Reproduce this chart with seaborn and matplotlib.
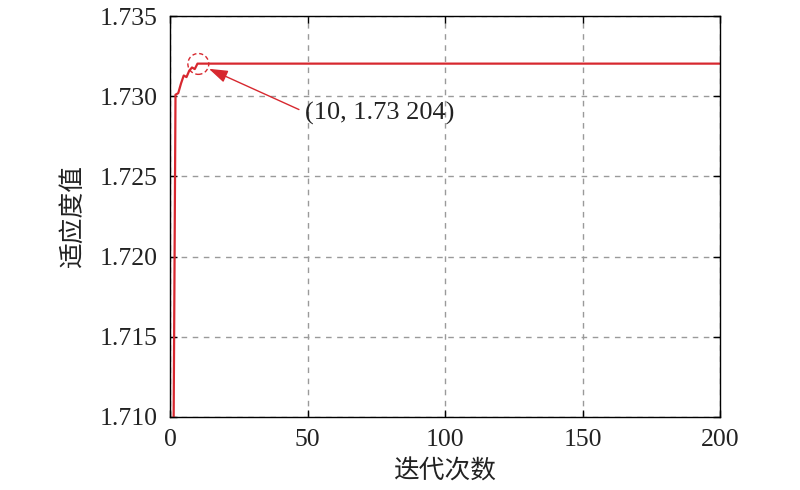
import numpy as np
import pandas as pd
import matplotlib

matplotlib.use("Agg")
import matplotlib.pyplot as plt
import seaborn as sns
from matplotlib.patches import Ellipse

# convergence curve: iteration -> fitness
early_iters = [1, 2, 3, 4, 5, 6, 7, 8, 9, 10]
early_fitness = [1.7000, 1.7301, 1.7302, 1.7308, 1.7313, 1.7312, 1.7316, 1.7318, 1.7317, 1.73204]
plateau_value = 1.73204
last_iter = 200

best_iter = 10
best_value = 1.73204
best_label = "(10, 1.73 204)"

x_ticks = [0, 50, 100, 150, 200]
y_ticks = [1.710, 1.715, 1.720, 1.725, 1.730, 1.735]

iters = early_iters + list(range(early_iters[-1] + 1, last_iter + 1))
fitness = early_fitness + [plateau_value] * (last_iter - early_iters[-1])
df = pd.DataFrame({"iter": iters, "fitness": fitness})

sns.set_theme(style="white")
plt.rcParams["font.family"] = ["Liberation Serif", "Noto Sans CJK SC"]
cjk = ["Noto Sans CJK SC", "DejaVu Sans"]
red = "#d7282f"

fig = plt.figure(figsize=(8, 4.9), dpi=100)
ax = fig.add_axes([0.2125, 0.149, 0.6875, 0.818])

sns.lineplot(data=df, x="iter", y="fitness", color=red, linewidth=1.6, ax=ax)

ax.set_xlim(0, 200)
ax.set_ylim(1.710, 1.735)
ax.set_xticks(x_ticks)
ax.set_yticks(y_ticks)
ax.set_yticklabels([f"{v:.3f}" for v in y_ticks])
ax.tick_params(axis="both", which="both", direction="in", length=5, width=1,
               colors="black", labelsize=18.5, pad=9,
               top=True, right=True, bottom=True, left=True)
for lab in ax.get_xticklabels() + ax.get_yticklabels():
    lab.set_color("#222222")

ax.grid(True, color="#9a9a9a", linestyle=(0, (4, 4)), linewidth=1)
for s in ax.spines.values():
    s.set_color("black")
    s.set_linewidth(1)

ax.set_xlabel("迭代次数", family=cjk, fontsize=18.5, color="#222222", labelpad=5)
ax.set_ylabel("适应度值", family=cjk, fontsize=18.5, color="#222222", labelpad=10)

# dashed circle around the best point
ax.add_patch(Ellipse((best_iter + 0.3, best_value - 0.00002), width=7.6, height=0.0013,
                     fill=False, edgecolor=red, linestyle=(0, (3, 2)), linewidth=1))

ax.annotate(best_label, xy=(best_iter, best_value), xytext=(49, 1.72894),
            ha="left", va="center", fontsize=19, color="#222222",
            arrowprops=dict(arrowstyle="-|>,head_length=0.6,head_width=0.2",
                            color=red, lw=1, shrinkA=2, shrinkB=9,
                            relpos=(0, 0.55)))

fig.savefig("out.png", dpi=100)
plt.close(fig)
